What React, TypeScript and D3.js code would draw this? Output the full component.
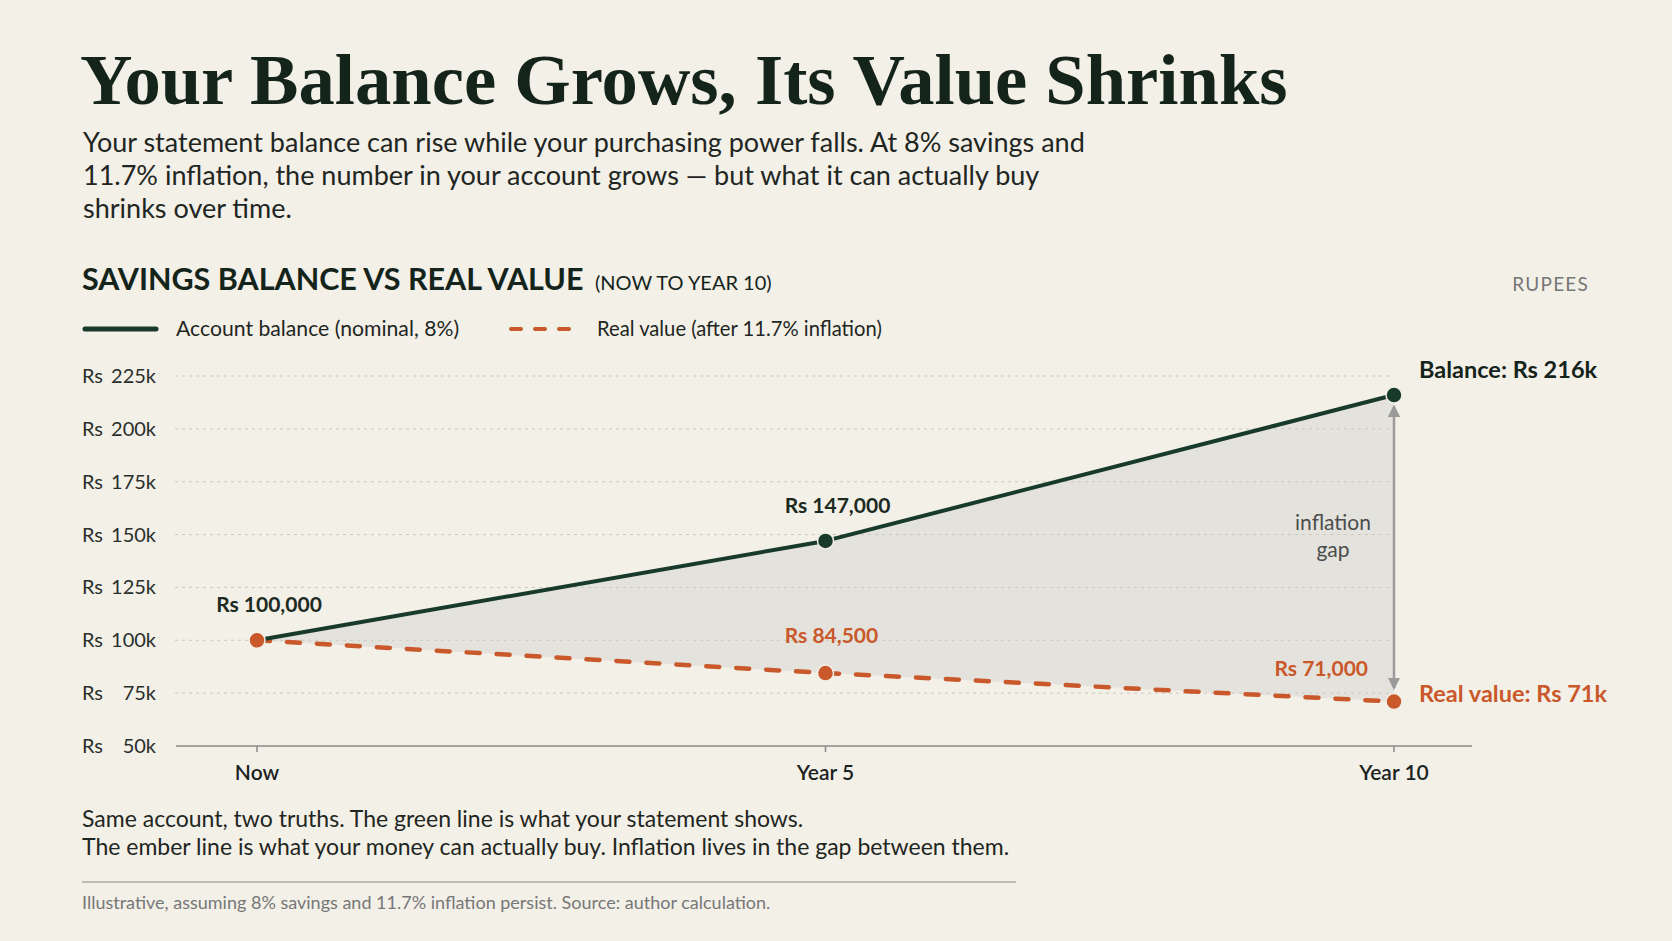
import React from "react";
import * as d3 from "d3";

const categories = ["Now", "Year 5", "Year 10"];
const balanceValues = [100000, 147000, 216000];
const realValues = [100000, 84500, 71000];
const yTickValues = [50000, 75000, 100000, 125000, 150000, 175000, 200000, 225000];
const yTickLabels = ["50k", "75k", "100k", "125k", "150k", "175k", "200k", "225k"];
const balanceLabels = ["Rs 100,000", "Rs 147,000", ""];
const realLabels = ["", "Rs 84,500", "Rs 71,000"];

const W = 1672;
const H = 941;
const BG = "#f3f0e8";
const GREEN = "#183a2a";
const EMBER = "#c9582a";
const SANS = "Lato, 'Noto Sans', sans-serif";

export default function App() {
  const x = d3.scalePoint<string>().domain(categories).range([257, 1394]).padding(0);
  const y = d3.scaleLinear().domain([50000, 225000]).range([746, 376]);

  const balPts = categories.map((c, i) => [x(c)!, y(balanceValues[i])] as [number, number]);
  const realPts = categories.map((c, i) => [x(c)!, y(realValues[i])] as [number, number]);
  const line = d3.line<[number, number]>();
  const area = d3
    .area<number>()
    .x((i) => x(categories[i])!)
    .y0((i) => y(realValues[i]))
    .y1((i) => y(balanceValues[i]));

  const last = categories.length - 1;
  const xLast = x(categories[last])!;

  return (
    <div style={{ position: "absolute", left: 0, top: 0, width: W, height: H }}>
      <svg width={W} height={H} viewBox={`0 0 ${W} ${H}`} style={{ display: "block" }}>
        <defs>
          <marker id="arr" viewBox="0 0 10 10" refX="8" refY="5" markerWidth="5" markerHeight="5" orient="auto-start-reverse">
            <path d="M0,0 L10,5 L0,10 z" fill="#9a9a9a" />
          </marker>
        </defs>
        <rect width={W} height={H} fill={BG} />

        {/* Title */}
        <text x={80} y={104} fontFamily="'Liberation Serif', 'Times New Roman', serif" fontWeight={700} fontSize={72.6} fill="#15241b">
          Your Balance Grows, Its Value Shrinks
        </text>
        <g fontFamily={SANS} fontSize={27} fill="#1f2622">
          <text x={83} y={152}>Your statement balance can rise while your purchasing power falls. At 8% savings and</text>
          <text x={83} y={185}>11.7% inflation, the number in your account grows — but what it can actually buy</text>
          <text x={83} y={218}>shrinks over time.</text>
        </g>

        {/* Section header */}
        <text x={82} y={290} fontFamily={SANS} fontWeight={700} fontSize={30.5} fill="#15241b">
          SAVINGS BALANCE VS REAL VALUE
        </text>
        <text x={595} y={290} fontFamily={SANS} fontSize={20} fill="#15241b">
          (NOW TO YEAR 10)
        </text>
        <text x={1589} y={291} textAnchor="end" fontFamily={SANS} fontSize={19} letterSpacing={1.2} fill="#777">
          RUPEES
        </text>

        {/* Legend */}
        <line x1={85} x2={156} y1={329} y2={329} stroke={GREEN} strokeWidth={5} strokeLinecap="round" />
        <text x={176} y={336} fontFamily={SANS} fontSize={21.2} fill="#1f2622">
          Account balance (nominal, 8%)
        </text>
        <line x1={511} x2={578} y1={329} y2={329} stroke={EMBER} strokeWidth={4} strokeDasharray="10 14" strokeLinecap="round" />
        <text x={597} y={336} fontFamily={SANS} fontSize={20.2} fill="#1f2622">
          Real value (after 11.7% inflation)
        </text>

        {/* Area */}
        <path d={area(categories.map((_, i) => i)) || ""} fill="#d6d4cf" fillOpacity={0.5} />

        {/* Grid */}
        {yTickValues.map((v, i) => (
          <g key={v}>
            {i > 0 && (
              <line x1={175} x2={xLast} y1={y(v)} y2={y(v)} stroke="#cdc8be" strokeWidth={1} strokeDasharray="3 4" />
            )}
            <text x={82} y={y(v)} dy="0.35em" fontFamily={SANS} fontSize={20} fill="#2a2f2c">
              Rs
            </text>
            <text x={156} y={y(v)} dy="0.35em" textAnchor="end" fontFamily={SANS} fontSize={20} fill="#2a2f2c">
              {yTickLabels[i]}
            </text>
          </g>
        ))}

        {/* X axis */}
        <line x1={176} x2={1472} y1={y(50000)} y2={y(50000)} stroke="#8a8a86" strokeWidth={1.5} />
        {categories.map((c) => (
          <g key={c}>
            <line x1={x(c)} x2={x(c)} y1={y(50000)} y2={y(50000) + 6} stroke="#8a8a86" strokeWidth={1.5} />
            <text x={x(c)} y={780} textAnchor="middle" fontFamily={SANS} fontWeight={600} fontSize={21} fill="#1c231f">
              {c}
            </text>
          </g>
        ))}

        {/* Gap arrow */}
        <line x1={xLast} x2={xLast} y1={y(realValues[last]) - 14} y2={y(balanceValues[last]) + 12} stroke="#9a9a9a" strokeWidth={2.5} markerStart="url(#arr)" markerEnd="url(#arr)" />
        <g fontFamily={SANS} fontSize={21} fill="#4a4d4b" textAnchor="middle">
          <text x={1333} y={530}>inflation</text>
          <text x={1333} y={557}>gap</text>
        </g>

        {/* Lines */}
        <path d={line(realPts) || ""} fill="none" stroke={EMBER} strokeWidth={4.5} strokeDasharray="13 17" strokeLinecap="round" />
        <path d={line(balPts) || ""} fill="none" stroke={GREEN} strokeWidth={4} strokeLinejoin="round" />

        {realPts.map((p, i) => (
          <circle key={"r" + i} cx={p[0]} cy={p[1]} r={8} fill={EMBER} stroke={BG} strokeWidth={1.5} />
        ))}
        {balPts.map((p, i) =>
          i === 0 ? null : <circle key={"b" + i} cx={p[0]} cy={p[1]} r={8} fill={GREEN} stroke={BG} strokeWidth={1.5} />
        )}

        {/* Point labels */}
        <g fontFamily={SANS} fontWeight={700} fontSize={21}>
          {balanceLabels.map((t, i) =>
            t ? (
              <text key={"bl" + i} x={balPts[i][0] + 12} y={balPts[i][1] - 28} textAnchor="middle" fill="#1c2a22">
                {t}
              </text>
            ) : null
          )}
          {realLabels.map((t, i) =>
            t ? (
              i === last ? (
                <text key={"rl" + i} x={realPts[i][0] - 26} y={realPts[i][1] - 26} textAnchor="end" fill={EMBER}>
                  {t}
                </text>
              ) : (
                <text key={"rl" + i} x={realPts[i][0] + 6} y={realPts[i][1] - 30} textAnchor="middle" fill={EMBER}>
                  {t}
                </text>
              )
            ) : null
          )}
          <text x={1419} y={378} fontSize={23.5} fill="#15241b">Balance: Rs 216k</text>
          <text x={1419} y={702} fontSize={23.5} fill={EMBER}>Real value: Rs 71k</text>
        </g>

        {/* Footer */}
        <g fontFamily={SANS} fontSize={23} fill="#1f2622">
          <text x={82} y={827}>Same account, two truths. The green line is what your statement shows.</text>
          <text x={82} y={855}>The ember line is what your money can actually buy. Inflation lives in the gap between them.</text>
        </g>
        <line x1={82} x2={1016} y1={882} y2={882} stroke="#b0aca4" strokeWidth={1.5} />
        <text x={82} y={909} fontFamily={SANS} fontSize={18} fill="#777">
          Illustrative, assuming 8% savings and 11.7% inflation persist. Source: author calculation.
        </text>
      </svg>
    </div>
  );
}
